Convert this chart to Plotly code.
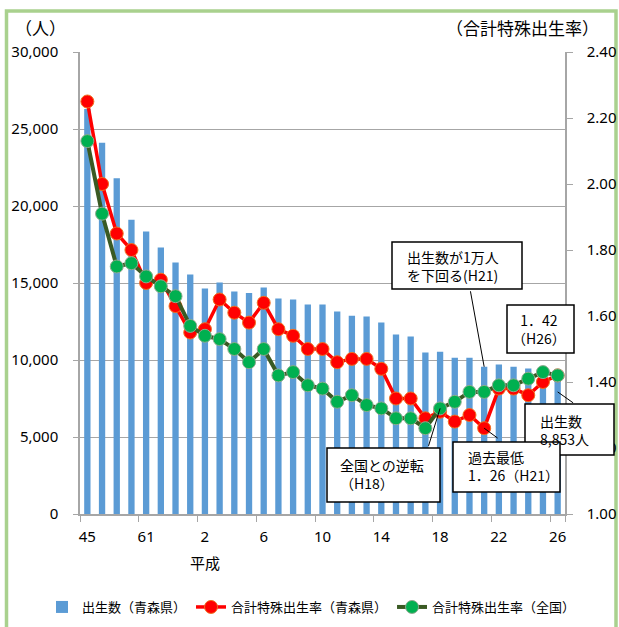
import plotly.graph_objects as go

# ---------------- data ----------------
categories = ["S45", "S50", "S55", "S60", "S61", "S62", "S63"] + [f"H{i}" for i in range(1, 27)]
tick_labels = ["45", "61", "2", "6", "10", "14", "18", "22", "26"]

births_aomori = [26300, 24100, 21800, 19100, 18350, 17300, 16330, 15550, 14640, 15030,
                 14450, 14350, 14710, 13990, 13930, 13600, 13600, 13150, 12880, 12820,
                 12430, 11650, 11520, 10480, 10540, 10150, 10150, 9560, 9700, 9560,
                 9440, 9180, 8853]
tfr_aomori = [2.25, 2.00, 1.85, 1.80, 1.70, 1.71, 1.63, 1.55, 1.56, 1.65,
              1.61, 1.58, 1.64, 1.56, 1.54, 1.50, 1.50, 1.46, 1.47, 1.47,
              1.44, 1.35, 1.35, 1.29, 1.31, 1.28, 1.30, 1.26, 1.38, 1.38,
              1.36, 1.40, 1.42]
tfr_japan = [2.13, 1.91, 1.75, 1.76, 1.72, 1.69, 1.66, 1.57, 1.54, 1.53,
             1.50, 1.46, 1.50, 1.42, 1.43, 1.39, 1.38, 1.34, 1.36, 1.33,
             1.32, 1.29, 1.29, 1.26, 1.32, 1.34, 1.37, 1.37, 1.39, 1.39,
             1.41, 1.43, 1.42]

names = ["出生数（青森県）", "合計特殊出生率（青森県）", "合計特殊出生率（全国）"]

# ---------------- layout geometry (pixels) ----------------
W, H = 619, 627
L, R, T, B = 80, 565, 52, 514


def px(x):
    return (x - L) / (R - L)


def py(y):
    return (B - y) / (B - T)


JP = "Noto Sans CJK JP"
NUM = "Noto Sans"
GRAY = "#a6a6a6"

fig = go.Figure()
fig.add_trace(go.Bar(
    x=categories, y=births_aomori, name=names[0],
    marker=dict(color="#5b9bd5", line=dict(width=0)), width=0.43,
))
fig.add_trace(go.Scatter(
    x=categories, y=tfr_aomori, name=names[1], yaxis="y2", mode="lines+markers",
    line=dict(color="#ff0000", width=3.5),
    marker=dict(color="#ff0000", size=13, line=dict(color="#f07020", width=1)),
))
fig.add_trace(go.Scatter(
    x=categories, y=tfr_japan, name=names[2], yaxis="y2", mode="lines+markers",
    line=dict(color="#3a5a23", width=4),
    marker=dict(color="#00b050", size=13, line=dict(color="#8faa8f", width=1)),
))

annotations = []
shapes = []

# outer light-green frame
shapes.append(dict(type="rect", xref="paper", yref="paper",
                   x0=px(6.5), x1=px(616), y0=py(700), y1=py(11),
                   line=dict(color="#a9d18e", width=3.5), fillcolor="rgba(0,0,0,0)", layer="below"))

# axis titles
annotations.append(dict(text="（人）", xref="paper", yref="paper", x=px(40), y=py(28),
                        xanchor="center", yanchor="middle", showarrow=False,
                        font=dict(family=JP, size=17, color="#000")))
annotations.append(dict(text="（合計特殊出生率）", xref="paper", yref="paper", x=px(522), y=py(28),
                        xanchor="center", yanchor="middle", showarrow=False,
                        font=dict(family=JP, size=17, color="#000")))
annotations.append(dict(text="平成", xref="x", yref="paper", x=8, y=py(562),
                        xanchor="center", yanchor="middle", showarrow=False,
                        font=dict(family=JP, size=15, color="#000")))


def box(x0, x1, y0, y1):
    shapes.append(dict(type="rect", xref="paper", yref="paper",
                       x0=px(x0), x1=px(x1), y0=py(y1), y1=py(y0),
                       line=dict(color="#000", width=1.5), fillcolor="white", layer="above"))


def text_block(t, x, y, anchor="left", size=14):
    annotations.append(dict(text=t, xref="paper", yref="paper", x=px(x), y=py(y),
                            xanchor=anchor, yanchor="middle", showarrow=False,
                            align="center" if anchor == "center" else "left",
                            font=dict(family=JP, size=size, color="#000")))


def leader(x, y, yref, ax, ay):
    annotations.append(dict(text="", x=x, y=y, xref="x", yref=yref, ax=ax, ay=ay,
                            showarrow=True, arrowhead=0, arrowwidth=1, arrowcolor="#000",
                            standoff=0, startstandoff=0))


# leader lines
leader(27, births_aomori[27], "y", -14, -77)      # 1万人を下回る
leader(24, tfr_japan[24], "y2", -12, 39)          # 全国との逆転
leader(27, tfr_aomori[27], "y2", 15, 11)          # 過去最低
leader(32, 1.37, "y2", 17, 12)                    # 出生数 8,853人

# boxes with text
box(392, 522, 242, 289)
text_block("出生数が1万人<br>を下回る(H21)", 405, 266)

box(507, 574, 305, 353)
text_block("1．42<br>（H26）", 539, 329, anchor="center")

box(525, 614, 404, 455)
text_block("出生数<br>8,853人", 538, 430)

box(327, 440, 448, 502)
text_block("全国との逆転<br>（H18）", 338, 474)

box(453, 560, 442, 492)
text_block("過去最低<br>1．26（H21）", 466, 466)

fig.update_layout(
    width=W, height=H,
    margin=dict(l=L, r=W - R, t=T, b=H - B, pad=0, autoexpand=False),
    paper_bgcolor="white", plot_bgcolor="white",
    font=dict(family=NUM, size=15, color="#000"),
    showlegend=True,
    legend=dict(orientation="h", x=px(42), y=py(607), xanchor="left", yanchor="middle",
                font=dict(family=JP, size=13, color="#000"), bgcolor="rgba(0,0,0,0)",
                itemwidth=30, tracegroupgap=0),
    bargap=0.5,
    xaxis=dict(type="category", categoryorder="array", categoryarray=categories,
               range=[-0.5, len(categories) - 0.5],
               tickmode="array", tickvals=categories[::4], ticktext=tick_labels,
               tickson="boundaries", ticks="outside", ticklen=6, tickcolor=GRAY, tickwidth=1.3,
               tickangle=0,
               showline=True, linecolor=GRAY, linewidth=1.5, showgrid=False,
               ticklabelstandoff=8,
               tickfont=dict(family=NUM, size=15, color="#000")),
    yaxis=dict(range=[0, 30000], dtick=5000, tickformat=",d",
               ticks="outside", ticklen=5, tickcolor=GRAY, tickwidth=1.3,
               showline=True, linecolor=GRAY, linewidth=1.5,
               showgrid=True, gridcolor=GRAY, gridwidth=1.3, zeroline=False,
               ticklabelstandoff=12,
               tickfont=dict(family=NUM, size=15, color="#000")),
    yaxis2=dict(range=[1.0, 2.4], tick0=1.0, dtick=0.2, tickformat=".2f",
                overlaying="y", side="right",
                ticks="outside", ticklen=6, tickcolor=GRAY, tickwidth=1.3,
                showline=True, linecolor=GRAY, linewidth=1.5,
                showgrid=False, zeroline=False,
                ticklabelstandoff=11,
                tickfont=dict(family=NUM, size=15, color="#000")),
    shapes=shapes,
    annotations=annotations,
)

fig.write_html("out.html", config={"displayModeBar": False},
               post_script="document.body.style.margin='0';document.body.style.overflow='hidden';")
